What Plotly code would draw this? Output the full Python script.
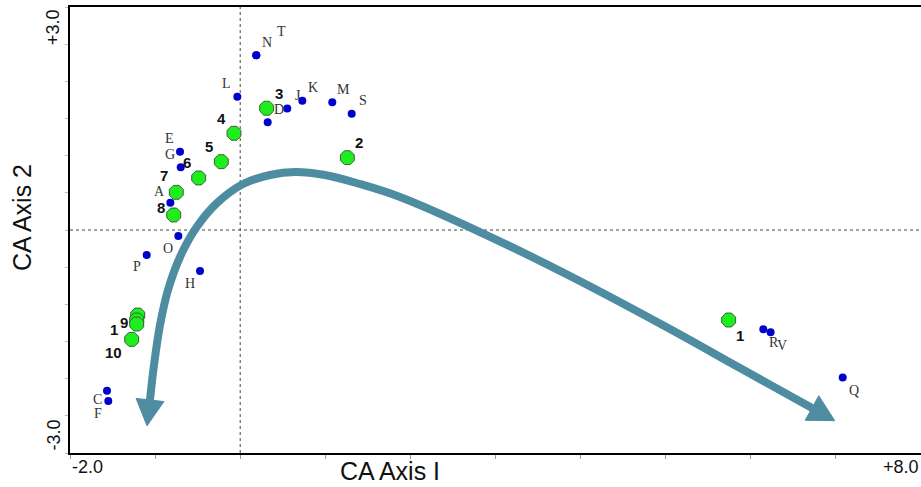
import numpy as np
import plotly.graph_objects as go

# ---------------- data ----------------
site_labels = ["1", "2", "3", "4", "5", "6", "7", "8", "9", "1", "", "10"]
site_x = [5.740, 1.259, 0.311, -0.073, -0.222, -0.488, -0.751, -0.781, -1.204, -1.216, -1.216, -1.275]
site_y = [-1.211, 0.973, 1.638, 1.301, 0.919, 0.700, 0.507, 0.202, -1.144, -1.211, -1.265, -1.471]
site_pos = ["lr", "ur", "ur", "ul", "ul", "ul", "ul7", "ul8", "l9", "l1", "l", "ll"]

sp_labels = ["A", "C", "D", "E", "F", "G", "H", "J", "K", "L", "M", "N", "O", "P", "Q", "R", "S", "T", "V"]
sp_x = [-0.821, -1.565, 0.323, -0.707, -1.550, -0.699, -0.472, 0.553, 0.730, -0.034, 1.082, 0.189,
        -0.727, -1.099, 7.080, 6.147, 1.310, 0.189, 6.233]
sp_y = [0.367, -2.163, 1.450, 1.054, -2.301, 0.844, -0.552, 1.633, 1.740, 1.794, 1.719, 2.351,
        -0.081, -0.336, -1.983, -1.336, 1.565, 2.351, -1.377]
sp_pos = ["ulA", "llc", "ur", "ul", "ll", "ul", "ll", "ur", "ur", "ul", "ur", "ur",
          "ll", "ll", "lr", "lr", "ur", "ur2", "lr"]

arrow_x = [-1.060, -1.013, -0.942, -0.848, -0.707, -0.519, -0.273, 0.033, 0.350, 0.644,
           0.996, 1.407, 1.878, 2.818, 3.875, 5.050, 5.873, 6.719]
arrow_y = [-2.287, -1.816, -1.278, -0.807, -0.363, 0.027, 0.363, 0.619, 0.740, 0.780,
           0.740, 0.619, 0.444, -0.027, -0.619, -1.332, -1.857, -2.395]

x_range = [-2.0, 8.0]
y_range = [-3.0, 3.0]
x_tick_labels = ["-2.0", "+8.0"]
y_tick_labels = ["-3.0", "+3.0"]

# ---------------- layout geometry ----------------
W, H = 921, 487
ML, MR, MT, MB = 70, 0, 7, 34
PW, PH = W - ML - MR, H - MT - MB

def to_px(x, y):
    return ((x - x_range[0]) / (x_range[1] - x_range[0]) * PW,
            (y_range[1] - y) / (y_range[1] - y_range[0]) * PH)

def to_data(px, py):
    return (x_range[0] + px / PW * (x_range[1] - x_range[0]),
            y_range[1] - py / PH * (y_range[1] - y_range[0]))

ARROW_COL = "#4d8ca1"

fig = go.Figure()

# arrow body
fig.add_trace(go.Scatter(x=arrow_x, y=arrow_y, mode="lines",
                         line=dict(color=ARROW_COL, width=8, shape="spline", smoothing=1.0),
                         hoverinfo="skip", showlegend=False))

# arrow heads computed from path ends
def head(end_i, prev_i, length=26, half=14):
    ex, ey = to_px(arrow_x[end_i], arrow_y[end_i])
    qx, qy = to_px(arrow_x[prev_i], arrow_y[prev_i])
    dx, dy = ex - qx, ey - qy
    n = np.hypot(dx, dy)
    dx, dy = dx / n, dy / n
    tip = (ex + dx * length, ey + dy * length)
    b1 = (ex - dy * half, ey + dx * half)
    b2 = (ex + dy * half, ey - dx * half)
    pts = [to_data(*p) for p in (b1, tip, b2, b1)]
    return [p[0] for p in pts], [p[1] for p in pts]

for e, p in [(0, 1), (len(arrow_x) - 1, len(arrow_x) - 2)]:
    hx, hy = head(e, p)
    fig.add_trace(go.Scatter(x=hx, y=hy, mode="lines", fill="toself", fillcolor=ARROW_COL,
                             line=dict(color=ARROW_COL, width=1), hoverinfo="skip", showlegend=False))

# species points
fig.add_trace(go.Scatter(x=sp_x, y=sp_y, mode="markers",
                         marker=dict(symbol="circle", size=8, color="#0000cc", line=dict(width=0)),
                         showlegend=False))
# site points
fig.add_trace(go.Scatter(x=site_x, y=site_y, mode="markers",
                         marker=dict(symbol="octagon", size=15, color="#1eee1e",
                                     line=dict(color="#3b5e3b", width=1)),
                         showlegend=False))

offs = {"ur": (11, 13), "ul": (-11, 13), "ll": (-10, -12), "lr": (11, -13),
        "ur2": (25, 24), "llc": (-10, -9), "ulA": (-11, 11)}
annotations = []
for t, x, y, p in zip(sp_labels, sp_x, sp_y, sp_pos):
    dx, dy = offs[p]
    annotations.append(dict(x=x, y=y, text=t, showarrow=False, xshift=dx, yshift=dy,
                            font=dict(family="Liberation Serif", size=14, color="#333333")))
site_offs = {"ur": (12, 15), "ul": (-12, 15), "lr": (11, -15), "ll": (-18, -13),
             "ul7": (-12, 17), "ul8": (-13, 7), "l9": (-14, -7), "l1": (-23, -9), "l": (-16, -7)}
for t, x, y, p in zip(site_labels, site_x, site_y, site_pos):
    if not t:
        continue
    dx, dy = site_offs[p]
    annotations.append(dict(x=x, y=y, text="<b>" + t + "</b>", showarrow=False, xshift=dx, yshift=dy,
                            font=dict(family="Liberation Sans", size=15, color="#111111")))

# axis end labels
tick_font = dict(family="Liberation Sans", size=18, color="#111111")
title_font = dict(family="Liberation Sans", size=25, color="#111111")
annotations += [
    dict(xref="x domain", yref="y domain", x=0, y=1, xanchor="right", yanchor="top", xshift=-5,
         text=y_tick_labels[1], textangle=-90, showarrow=False, font=tick_font),
    dict(xref="x domain", yref="y domain", x=0, y=0, xanchor="right", yanchor="bottom", xshift=-5,
         text=y_tick_labels[0], textangle=-90, showarrow=False, font=tick_font),
    dict(xref="x domain", yref="y domain", x=0, y=0, xanchor="left", yanchor="top", yshift=-2,
         text=x_tick_labels[0], showarrow=False, font=tick_font),
    dict(xref="x domain", yref="y domain", x=1, y=0, xanchor="right", yanchor="top", yshift=-2,
         text=x_tick_labels[1], showarrow=False, font=tick_font),
    dict(xref="paper", yref="paper", x=(22 - ML) / PW, y=(H - MB - 218) / PH, text="CA Axis 2",
         xanchor="center", yanchor="middle",
         textangle=-90, showarrow=False, font=title_font),
    dict(xref="paper", yref="paper", x=(390 - ML) / PW, y=-(471 - (H - MB)) / PH, text="CA Axis I",
         xanchor="center", yanchor="middle",
         showarrow=False, font=title_font),
]

shapes = [
    dict(type="line", xref="x", yref="y domain", x0=0, x1=0, y0=0, y1=1,
         line=dict(color="#444444", width=1, dash="3px,3px"), layer="below"),
    dict(type="line", xref="x domain", yref="y", x0=0, x1=1, y0=0, y1=0,
         line=dict(color="#444444", width=1, dash="3px,3px"), layer="below"),
]

fig.update_layout(
    width=W, height=H, margin=dict(l=ML, r=MR, t=MT, b=MB),
    paper_bgcolor="white", plot_bgcolor="white",
    annotations=annotations, shapes=shapes, showlegend=False,
    xaxis=dict(range=x_range, showgrid=False, zeroline=False, showline=True, linecolor="black",
               linewidth=2, mirror=True, ticks="outside", ticklen=4, tickcolor="#999999",
               dtick=1, tick0=-2, showticklabels=False),
    yaxis=dict(range=y_range, showgrid=False, zeroline=False, showline=True, linecolor="black",
               linewidth=2, ticks="outside", ticklen=3, tickcolor="#bbbbbb",
               dtick=0.5, tick0=-3, showticklabels=False),
)

fig.write_html("out.html")
